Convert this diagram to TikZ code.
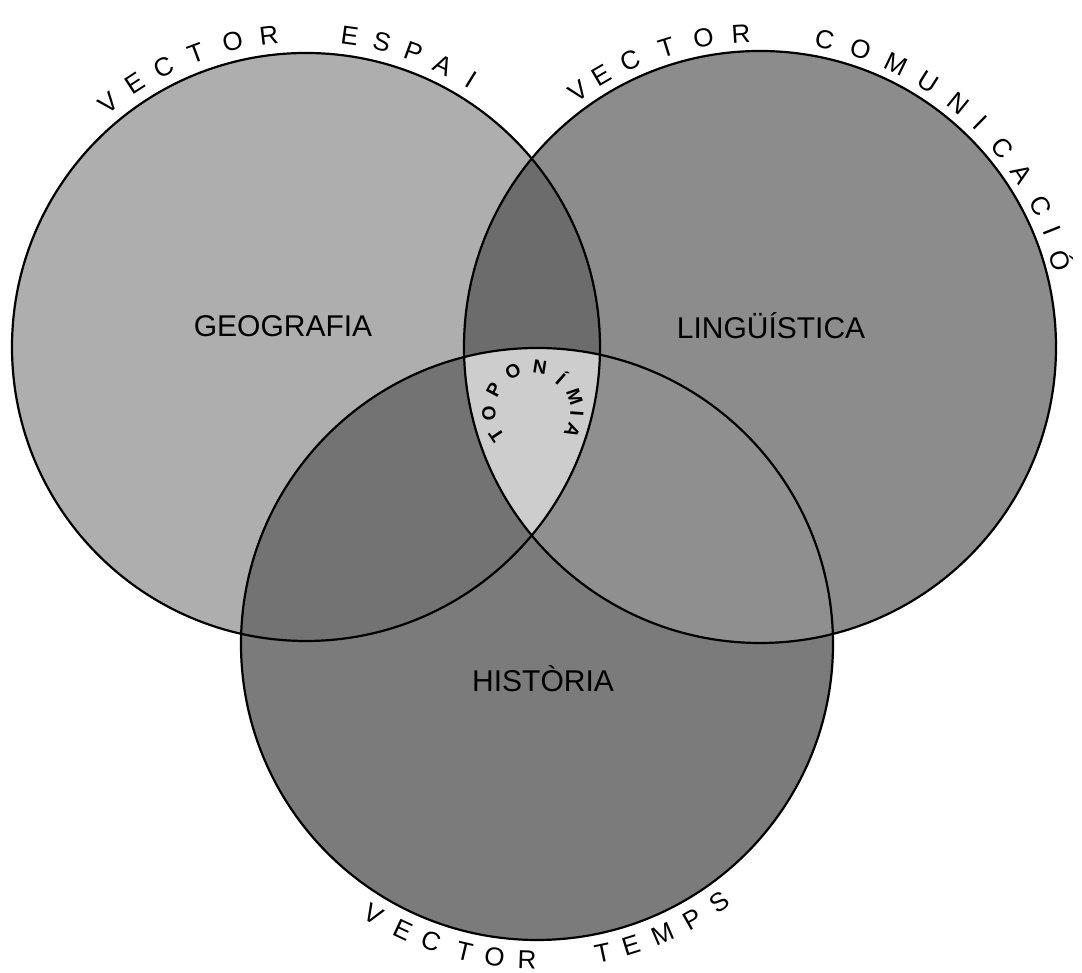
\documentclass[tikz,border=0pt]{standalone}
\usepackage{fontspec}
\setmainfont{Liberation Sans}
\usetikzlibrary{calc}
\definecolor{cl}{HTML}{AEAEAE}
\definecolor{cr}{HTML}{8C8C8C}
\definecolor{cb}{HTML}{7B7B7B}
\definecolor{clr}{HTML}{6C6C6C}
\definecolor{clb}{HTML}{737373}
\definecolor{crb}{HTML}{8F8F8F}
\definecolor{clrb}{HTML}{CDCDCD}
\begin{document}
\begin{tikzpicture}[x=1pt,y=1pt,
  outline/.style={draw=black,line width=2.2pt},
  arcletter/.style={font=\fontsize{26}{26}\selectfont,inner sep=0pt},
  topletter/.style={font=\bfseries\fontsize{19}{19}\selectfont,inner sep=0pt},
  fieldlabel/.style={font=\fontsize{30}{30}\selectfont,inner sep=0pt,anchor=base}]
\useasboundingbox (0,0) rectangle (1082,973);
\def\radL{294}\def\radR{296}\def\radB{296}
\coordinate (cL) at (306,626);
\coordinate (cR) at (760,626);
\coordinate (cB) at (537,329);
\coordinate (cT) at (533,562);
% base fills
\fill[cl] (cL) circle[radius=\radL];
\fill[cr] (cR) circle[radius=\radR];
\fill[cb] (cB) circle[radius=\radB];
\begin{scope}
  \clip (cL) circle[radius=\radL];
  \fill[clr] (cR) circle[radius=\radR];
  \fill[clb] (cB) circle[radius=\radB];
\end{scope}
\begin{scope}
  \clip (cR) circle[radius=\radR];
  \fill[crb] (cB) circle[radius=\radB];
  \clip (cL) circle[radius=\radL];
  \fill[clrb] (cB) circle[radius=\radB];
\end{scope}
\draw[outline] (cL) circle[radius=\radL];
\draw[outline] (cR) circle[radius=\radR];
\draw[outline] (cB) circle[radius=\radB];
% labels
\node[fieldlabel] (geo) at (283,636) {GEOGRAFIA};
\node[fieldlabel] (lin) at (771,634) {LINGÜÍSTICA};
\node[fieldlabel] (his) at (543,281) {HISTÒRIA};
% VECTOR ESPAI
\foreach \a/\l [count=\i] in {129/V,123/E,117/C,110.5/T,103.5/O,96.8/R,82/E,76/S,70/P,64/A,58.2/I}
  \node[arcletter,rotate=\a-90] (es\i) at ($(cL)+(\a:314)$) {\l};
% VECTOR COMUNICACIO
\foreach \a/\l [count=\i] in {125.4/V,120.3/E,114.3/C,107.3/T,100.4/O,93.5/R,78.1/C,71.3/O,64.3/M,57.7/U,50.9/N,45.5/I,39.4/C,33.4/A,26.8/C,21.7/I,16.1/Ó}
  \node[arcletter,rotate=\a-90] (co\i) at ($(cR)+(\a:314)$) {\l};
% VECTOR TEMPS
\foreach \a/\l [count=\i] in {-121.2/V,-115/E,-109.6/C,-103.3/T,-97.7/O,-91.8/R,-78/T,-72.7/E,-66.6/M,-60.5/P,-54.7/S}
  \node[arcletter,rotate=\a+90] (te\i) at ($(cB)+(\a:316)$) {\l};
% TOPONIMIA
\foreach \a/\l [count=\i] in {214/T,183/O,152/P,117/O,81/N,49/Í,19/M,-4/I,-27/A}
  \node[topletter,rotate=\a-90] (to\i) at ($(cT)+(\a:44)$) {\l};
\end{tikzpicture}
\end{document}
